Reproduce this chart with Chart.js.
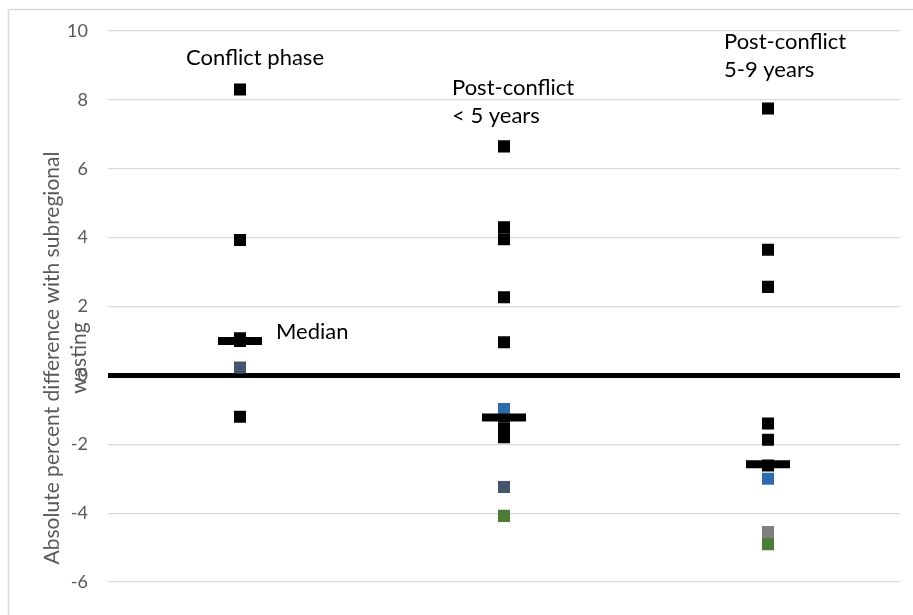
<!DOCTYPE html>
<html>
<head>
<meta charset="utf-8">
<script src="https://cdn.jsdelivr.net/npm/chart.js@4.4.1/dist/chart.umd.min.js"></script>
<style>
  html, body { margin: 0; padding: 0; background: #ffffff; overflow: hidden; }
  #wrap { width: 913px; height: 615px; position: relative; }
</style>
</head>
<body>
<div id="wrap"><canvas id="c" width="913" height="615"></canvas></div>
<script>
// ---- Data ----
const categories = ['Conflict phase', 'Post-conflict < 5 years', 'Post-conflict 5-9 years'];
const blackValues = [
  [8.3, 3.93, 1.08, 1.0, -1.2],
  [6.65, 4.3, 3.95, 2.27, 0.96, -1.2, -1.55, -1.8],
  [7.75, 3.65, 2.57, -1.4, -1.87, -2.62]
];
const blueValues = [[], [-0.98], [-3.0]];
const slateValues = [[0.23], [-3.24], []];
const greenValues = [[], [-4.08], [-4.9]];
const grayValues = [[], [], [-4.55]];
const medianValues = [1.0, -1.22, -2.58];
const yTicks = [-6, -4, -2, 0, 2, 4, 6, 8, 10];
const axisTitle = ['Absolute percent difference with subregional', 'wasting'];
const groupLabels = [['Conflict phase'], ['Post-conflict', '< 5 years'], ['Post-conflict', '5-9 years']];
const medianLabel = 'Median';

// ---- Layout (pixel offsets for text, not data) ----
const groupLabelLayout = [
  { dx: -54, yValue: 9.22 },
  { dx: -52, yValue: 8.35 },
  { dx: -44, yValue: 9.69 }
];
const FONT = 'Lato, "Open Sans", sans-serif';

function toPoints(arr) {
  const pts = [];
  arr.forEach((vals, i) => vals.forEach(v => pts.push({ x: categories[i], y: v })));
  return pts;
}

const squareStyle = (color) => ({
  pointStyle: 'rect', pointRadius: 8.5, pointHoverRadius: 8.5,
  backgroundColor: color, borderColor: color, borderWidth: 0, showLine: false
});

const decorPlugin = {
  id: 'decor',
  beforeDraw(chart) {
    const ctx = chart.ctx;
    ctx.save();
    ctx.strokeStyle = '#d9d9d9';
    ctx.lineWidth = 1.5;
    ctx.beginPath();
    ctx.moveTo(8.5, 615); ctx.lineTo(8.5, 9.5); ctx.lineTo(913, 9.5);
    ctx.stroke();
    ctx.restore();
  },
  afterDraw(chart) {
    const ctx = chart.ctx;
    const xs = chart.scales.x, ys = chart.scales.y;
    ctx.save();
    // axis title
    ctx.fillStyle = '#595959';
    ctx.font = '21px ' + FONT;
    ctx.textAlign = 'center';
    ctx.textBaseline = 'middle';
    ctx.translate(52, 358);
    ctx.rotate(-Math.PI / 2);
    axisTitle.forEach((t, k) => ctx.fillText(t, 0, k * 27));
    ctx.restore();

    ctx.save();
    ctx.fillStyle = '#000000';
    ctx.font = '22px ' + FONT;
    ctx.textAlign = 'left';
    ctx.textBaseline = 'middle';
    groupLabels.forEach((lines, i) => {
      const x = xs.getPixelForValue(i) + groupLabelLayout[i].dx;
      const y0 = ys.getPixelForValue(groupLabelLayout[i].yValue);
      lines.forEach((t, k) => ctx.fillText(t, x, y0 + k * 28.5));
    });
    ctx.fillText(medianLabel, xs.getPixelForValue(0) + 36, ys.getPixelForValue(medianValues[0]) - 9);
    ctx.restore();
  }
};

new Chart(document.getElementById('c'), {
  type: 'scatter',
  data: {
    labels: categories,
    datasets: [
      { label: 'Median', data: medianValues.map((v, i) => ({ x: categories[i], y: v })),
        pointStyle: 'line', pointRadius: 22, pointHoverRadius: 22, borderColor: '#000000', borderWidth: 8,
        backgroundColor: '#000000', showLine: false },
      Object.assign({ label: 'Blue', data: toPoints(blueValues) }, squareStyle('#2e6bad')),
      Object.assign({ label: 'Black', data: toPoints(blackValues) }, squareStyle('#000000')),
      Object.assign({ label: 'Slate', data: toPoints(slateValues) }, squareStyle('#44546a')),
      Object.assign({ label: 'Green', data: toPoints(greenValues) }, squareStyle('#4f7a38')),
      Object.assign({ label: 'Gray', data: toPoints(grayValues) }, squareStyle('#808080'))
    ]
  },
  options: {
    responsive: false,
    animation: false,
    events: [],
    layout: { autoPadding: false, padding: { left: 68, right: 13, top: 31, bottom: 33 } },
    plugins: { legend: { display: false }, tooltip: { enabled: false } },
    scales: {
      x: {
        type: 'category',
        labels: categories,
        offset: true,
        display: false
      },
      y: {
        min: -6, max: 10,
        afterBuildTicks(scale) { scale.ticks = yTicks.map(v => ({ value: v })); },
        afterFit(scale) { scale.width = 40; },
        ticks: { color: '#595959', font: { size: 18, family: FONT }, padding: 20 },
        border: { display: false },
        grid: {
          drawTicks: false,
          color: (c) => (c.tick && c.tick.value === 0) ? '#000000' : '#d9d9d9',
          lineWidth: (c) => (c.tick && c.tick.value === 0) ? 5 : 1.2
        }
      }
    }
  },
  plugins: [decorPlugin]
});
</script>
</body>
</html>
